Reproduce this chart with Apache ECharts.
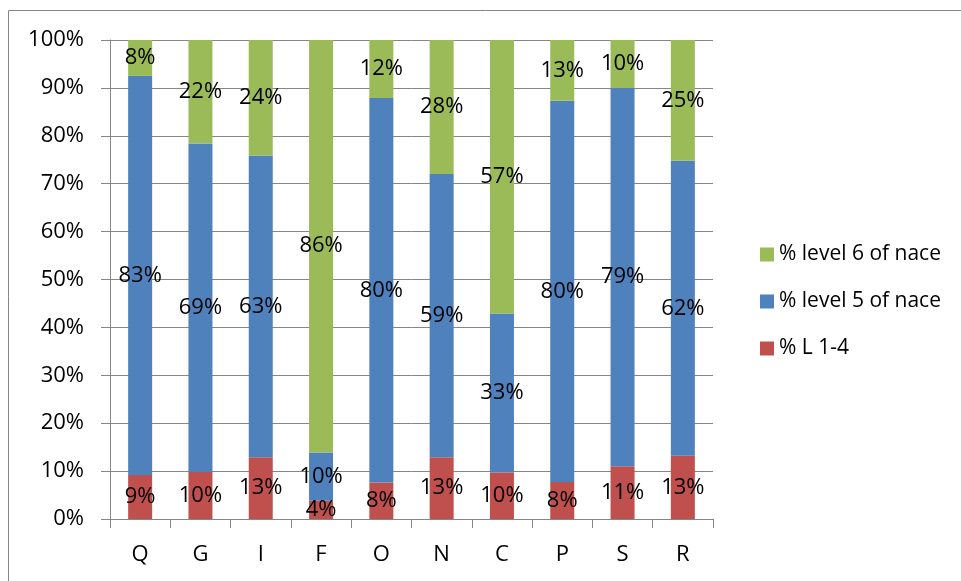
<!DOCTYPE html>
<html>
<head>
<meta charset="utf-8">
<script src="https://cdn.jsdelivr.net/npm/echarts@6/dist/echarts.min.js"></script>
<style>
  html, body { margin: 0; padding: 0; background: #fff; }
  #chart { width: 961px; height: 581px; }
</style>
</head>
<body>
<div id="chart"></div>
<script>
// Sectors (NACE codes)
const categories = ['Q', 'G', 'I', 'F', 'O', 'N', 'C', 'P', 'S', 'R'];

// Share of employees by level, in percent of each sector
const levelL14 = [9.2, 9.8, 12.9, 3.8, 7.6, 12.9, 9.7, 7.7, 11.0, 13.2];
const level5   = [83.3, 68.6, 63.0, 10.1, 80.3, 59.1, 33.2, 79.6, 79.0, 61.6];
const level6   = [7.5, 21.6, 24.1, 86.1, 12.1, 28.0, 57.1, 12.7, 10.0, 25.2];

const yTicks = { min: 0, max: 100, interval: 10 };

const seriesNames = ['% L 1-4', '% level 5 of nace', '% level 6 of nace'];
const colors = ['#C0504D', '#4F81BD', '#9BBB59'];
const FONT = '"Open Sans", "Liberation Sans", sans-serif';
const GRAY = '#868686';

function bar(name, data, color) {
  return {
    name: name,
    type: 'bar',
    stack: 'total',
    barWidth: 24,
    data: data,
    itemStyle: { color: color },
    label: {
      show: true,
      position: 'inside',
      color: '#000',
      fontFamily: FONT,
      fontSize: 22,
      formatter: p => Math.round(p.value) + '%'
    }
  };
}

const chart = echarts.init(document.getElementById('chart'), null, { renderer: 'canvas' });
chart.setOption({
  animation: false,
  backgroundColor: '#fff',
  graphic: [{
    type: 'rect',
    shape: { x: 8.5, y: 10.5, width: 1200, height: 1200 },
    style: { fill: 'none', stroke: GRAY, lineWidth: 1 },
    silent: true
  }],
  grid: { left: 110, top: 40, width: 603, height: 479 },
  legend: {
    orient: 'vertical',
    left: 755,
    top: 239,
    itemWidth: 14,
    itemHeight: 14,
    itemGap: 26,
    icon: 'rect',
    data: ['% level 6 of nace', '% level 5 of nace', '% L 1-4'],
    textStyle: { fontFamily: FONT, fontSize: 21, lineHeight: 20, color: '#000' }
  },
  xAxis: {
    type: 'category',
    data: categories,
    axisLine: { show: true, lineStyle: { color: GRAY, width: 1 } },
    axisTick: { show: true, length: 9, lineStyle: { color: GRAY } },
    axisLabel: { color: '#000', fontFamily: FONT, fontSize: 22, margin: 25 }
  },
  yAxis: {
    type: 'value',
    min: yTicks.min,
    max: yTicks.max,
    interval: yTicks.interval,
    axisLine: { show: true, lineStyle: { color: GRAY, width: 1 } },
    axisTick: { show: true, length: 9, lineStyle: { color: GRAY } },
    splitLine: { show: true, lineStyle: { color: GRAY, width: 1 } },
    axisLabel: { color: '#000', fontFamily: FONT, fontSize: 22, margin: 26, formatter: '{value}%' }
  },
  series: [
    bar(seriesNames[0], levelL14, colors[0]),
    bar(seriesNames[1], level5, colors[1]),
    bar(seriesNames[2], level6, colors[2])
  ]
});
</script>
</body>
</html>
